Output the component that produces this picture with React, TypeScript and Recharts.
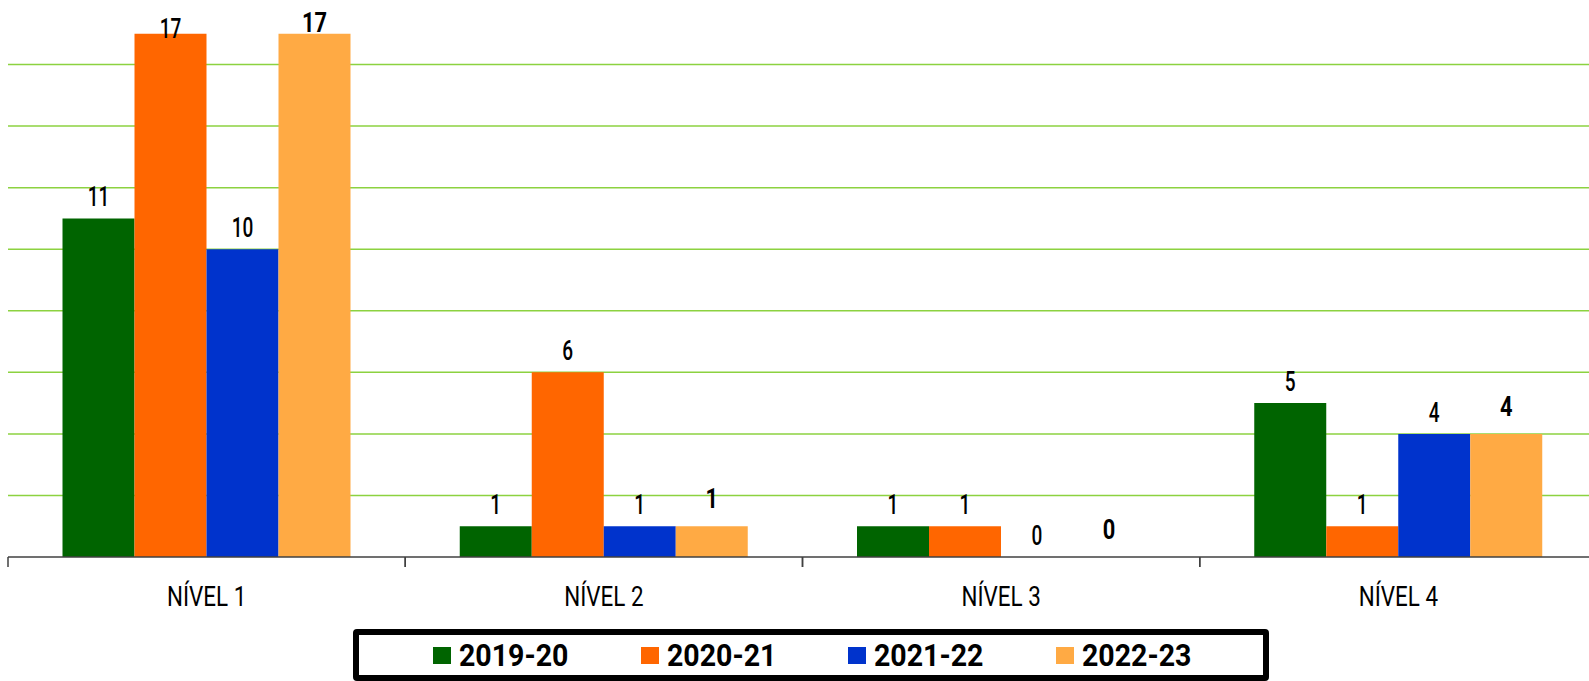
import { BarChart, Bar, XAxis, YAxis, CartesianGrid, Legend, LabelList } from 'recharts'

const categories = ['NÍVEL 1', 'NÍVEL 2', 'NÍVEL 3', 'NÍVEL 4']
const seriesNames = ['2019-20', '2020-21', '2021-22', '2022-23']
const values2019 = [11, 1, 1, 5]
const values2020 = [17, 6, 1, 1]
const values2021 = [10, 1, 0, 4]
const values2022 = [17, 1, 0, 4]
const gridValues = [2, 4, 6, 8, 10, 12, 14, 16]

const colors = ['#006400', '#FF6600', '#0033CC', '#FFAA44']
const FONT = "Roboto, 'Noto Sans', sans-serif"

const W = 1597
const H = 681
const ML = 8
const bandSize = (W - ML) / categories.length

const data = categories.map((name, i) => ({
  name,
  s0: values2019[i],
  s1: values2020[i],
  s2: values2021[i],
  s3: values2022[i],
}))

function makeLabel(gap: number, minBaseline: number, bold: boolean) {
  return (props: any) => {
    const { x, y, width, value } = props
    const cx = Number(x) + Number(width) / 2
    const baseline = Math.max(Number(y) - gap, minBaseline)
    return (
      <text
        transform={`translate(${cx},${baseline}) scale(${bold ? 0.78 : 0.68},1)`}
        textAnchor="middle"
        fontFamily={FONT}
        fontSize={28}
        fontWeight={bold ? 700 : 500}
        fill="#000"
      >
        {value}
      </text>
    )
  }
}

function CategoryTick(props: any) {
  const { x, y, payload } = props
  const left = x - bandSize / 2
  return (
    <g>
      <line x1={left} y1={y} x2={left} y2={y + 10} stroke="#404040" strokeWidth={1.5} />
      <line x1={left + bandSize} y1={y} x2={left + bandSize} y2={y + 10} stroke="#404040" strokeWidth={1.5} />
      <text
        transform={`translate(${x},${y + 49}) scale(0.8,1)`}
        textAnchor="middle"
        fontFamily={FONT}
        fontSize={28}
        fill="#000"
      >
        {payload.value}
      </text>
    </g>
  )
}

function LegendBox(props: any) {
  const { payload } = props
  return (
    <div
      style={{
        boxSizing: 'border-box',
        width: 916,
        height: 52,
        border: '6px solid #000',
        borderRadius: 4,
        background: '#fff',
        display: 'flex',
        alignItems: 'center',
        paddingLeft: 74,
        fontFamily: FONT,
      }}
    >
      {(payload || []).map((p: any, i: number) => (
        <div key={i} style={{ display: 'flex', alignItems: 'center', width: 211 }}>
          <span style={{ display: 'inline-block', width: 18, height: 17, background: p.color, marginRight: 8 }} />
          <span
            style={{
              display: 'inline-block',
              fontSize: 31,
              fontWeight: 700,
              color: '#000',
              lineHeight: '31px',
              transform: 'scaleX(0.92)',
              transformOrigin: 'left center',
            }}
          >
            {p.value}
          </span>
        </div>
      ))}
    </div>
  )
}

export default function App() {
  return (
    <div style={{ position: 'absolute', left: 0, top: 0, width: 1589, height: H, overflow: 'hidden', background: '#fff' }}>
      <BarChart
        width={W}
        height={H}
        data={data}
        margin={{ top: 3, right: 0, bottom: 0, left: ML }}
        barCategoryGap={54.5}
        barGap={0}
      >
        <CartesianGrid vertical={false} horizontalValues={gridValues} stroke="#8CD240" strokeWidth={1.5} />
        <YAxis hide domain={[0, 18]} ticks={gridValues} />
        <XAxis
          dataKey="name"
          height={124}
          interval={0}
          tickLine={false}
          tickSize={0}
          tickMargin={0}
          stroke="#404040"
          strokeWidth={1.5}
          tick={<CategoryTick />}
        />
        <Legend
          layout="horizontal"
          verticalAlign="middle"
          align="center"
          wrapperStyle={{ position: 'absolute', left: 353, top: 629, width: 916 }}
          content={<LegendBox />}
        />
        {['s0', 's1', 's2', 's3'].map((key, i) => (
          <Bar
            key={key}
            dataKey={key}
            name={seriesNames[i]}
            fill={colors[i]}
            minPointSize={0.01}
            isAnimationActive={false}
          >
            <LabelList
              dataKey={key}
              content={i === 3 ? makeLabel(18, 32, true) : makeLabel(12, 38, false)}
            />
          </Bar>
        ))}
      </BarChart>
    </div>
  )
}
